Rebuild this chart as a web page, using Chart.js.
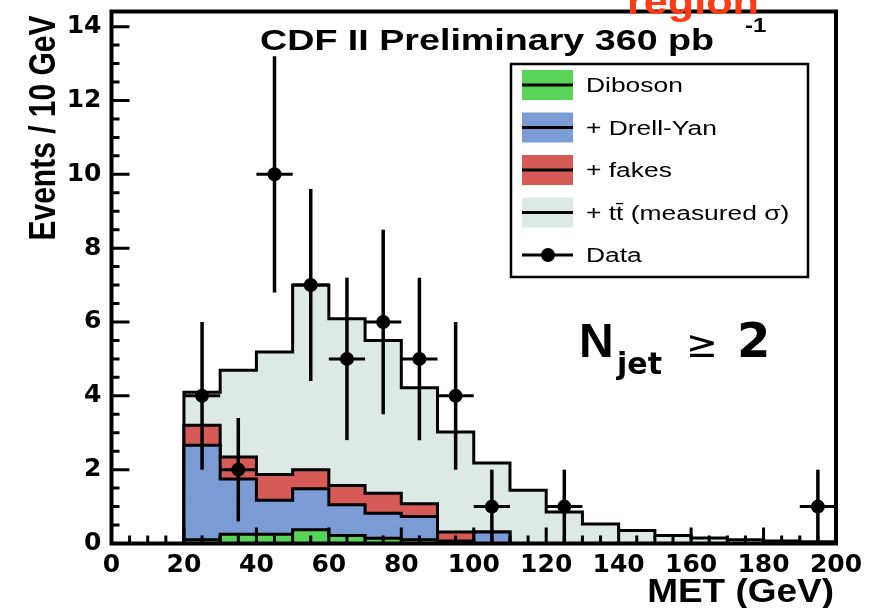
<!DOCTYPE html>
<html>
<head>
<meta charset="utf-8">
<script src="https://cdn.jsdelivr.net/npm/chart.js@4.4.1/dist/chart.umd.min.js"></script>
<style>
  html, body { margin: 0; padding: 0; background: #fff; }
  #wrap { width: 872px; height: 608px; }
</style>
</head>
<body>
<div id="wrap"><canvas id="metChart" width="872" height="608"></canvas></div>
<script>
// ====== DATOS ======
// bins de 10 GeV (borde inferior)
const binLow   = [20, 30, 40, 50, 60, 70, 80, 90, 100, 110, 120, 130, 140, 150, 160, 170, 180, 190];
const binWidth = 10;

// histogramas apilados (cada uno ya incluye los de abajo)
const diboson  = [0.10, 0.25, 0.25, 0.37, 0.22, 0.14, 0.10, 0.05, 0, 0, 0, 0, 0, 0, 0, 0, 0, 0];
const drellYan = [2.66, 1.75, 1.17, 1.48, 1.05, 0.82, 0.73, 0.07, 0.31, 0, 0, 0, 0, 0, 0, 0, 0, 0];
const fakes    = [3.20, 2.34, 1.87, 2.00, 1.57, 1.36, 1.08, 0.31, 0.31, 0, 0, 0, 0, 0, 0, 0, 0, 0];
const ttbar    = [4.10, 4.69, 5.19, 7.00, 6.09, 5.50, 4.22, 3.02, 2.18, 1.44, 0.85, 0.53, 0.35, 0.22, 0.15, 0.10, 0.07, 0.05];

// datos medidos
const dataMet    = [25, 35, 45, 55, 65, 75, 85, 95, 105, 125, 195];
const dataEvents = [4, 2, 10, 7, 5, 6, 5, 4, 1, 1, 1];
const dataErr    = [2.0, 1.4, 3.2, 2.6, 2.2, 2.5, 2.2, 2.0, 1.0, 1.0, 1.0];

// ejes
const xMin = 0, xMax = 200, xStep = 20, xMinor = 5;
const yMin = 0, yMax = 14.41, yStep = 2, yMinor = 0.5;

const colors = {
  diboson: '#58d558',
  drellYan: '#7a9bd3',
  fakes: '#d65a55',
  ttbar: '#dce9e5'
};

const FONT = '"DejaVu Sans", sans-serif';
const HELV = '"Liberation Sans", Arial, sans-serif';

// histograma -> puntos de escalera
function steps(values) {
  const pts = [{ x: binLow[0], y: 0 }];
  values.forEach((v, i) => {
    pts.push({ x: binLow[i], y: v }, { x: binLow[i] + binWidth, y: v });
  });
  pts.push({ x: binLow[binLow.length - 1] + binWidth, y: 0 });
  return pts;
}

function histDataset(label, values, color, order) {
  return {
    label,
    data: steps(values),
    backgroundColor: color,
    borderColor: '#000',
    borderWidth: 3,
    borderJoinStyle: 'miter',
    fill: 'origin',
    pointRadius: 0,
    tension: 0,
    order
  };
}

// texto ensanchado (la figura original esta estirada en horizontal)
function wideText(ctx, text, x, y, font, sx, align) {
  ctx.save();
  ctx.translate(x, y);
  ctx.scale(sx, 1);
  ctx.font = font;
  ctx.textAlign = align || 'left';
  ctx.fillText(text, 0, 0);
  ctx.restore();
}

// ====== PLUGINS ======
const errorBars = {
  id: 'errorBars',
  beforeDatasetDraw(chart, args) {
    if (chart.data.datasets[args.index].label !== 'Data') return;
    const { ctx, scales: { x, y } } = chart;
    ctx.save();
    ctx.strokeStyle = '#000';
    ctx.lineCap = 'butt';
    dataMet.forEach((m, i) => {
      const px = x.getPixelForValue(m);
      const py = y.getPixelForValue(dataEvents[i]);
      ctx.lineWidth = 3.5;
      ctx.beginPath();
      ctx.moveTo(px, y.getPixelForValue(Math.max(0, dataEvents[i] - dataErr[i])));
      ctx.lineTo(px, y.getPixelForValue(dataEvents[i] + dataErr[i]));
      ctx.stroke();
      ctx.lineWidth = 3;
      ctx.beginPath();
      ctx.moveTo(x.getPixelForValue(m - binWidth / 2), py);
      ctx.lineTo(x.getPixelForValue(m + binWidth / 2), py);
      ctx.stroke();
    });
    ctx.restore();
  }
};

const frameTicks = {
  id: 'frameTicks',
  afterDatasetsDraw(chart) {
    const { ctx, chartArea: a, scales: { x, y } } = chart;
    ctx.save();
    ctx.strokeStyle = '#000';
    ctx.lineWidth = 3;
    ctx.beginPath();
    for (let v = xMin; v <= xMax + 1e-6; v += xMinor) {
      const px = x.getPixelForValue(v);
      const len = (v % xStep === 0) ? 16 : 8;
      ctx.moveTo(px, a.bottom);
      ctx.lineTo(px, a.bottom - len);
    }
    for (let v = yMin; v <= yMax + 1e-6; v += yMinor) {
      const py = y.getPixelForValue(v);
      const len = (Math.abs(v % yStep) < 1e-6) ? 18 : 8;
      ctx.moveTo(a.left, py);
      ctx.lineTo(a.left + len, py);
    }
    ctx.stroke();
    ctx.lineWidth = 4;
    ctx.strokeRect(a.left, a.top, a.right - a.left, a.bottom - a.top);
    ctx.restore();
  }
};

const labels = {
  id: 'labels',
  afterDraw(chart) {
    const ctx = chart.ctx;
    ctx.save();
    ctx.fillStyle = '#000';
    ctx.textBaseline = 'alphabetic';

    // leyenda
    const bx = 511, by = 64, bw = 297, bh = 213;
    ctx.fillStyle = '#fff';
    ctx.fillRect(bx, by, bw, bh);
    ctx.strokeStyle = '#000';
    ctx.lineWidth = 2.5;
    ctx.strokeRect(bx, by, bw, bh);
    chart.data.datasets.forEach((ds, i) => {
      const cy = 85 + i * 42.5;
      if (ds.label !== 'Data') {
        ctx.fillStyle = ds.backgroundColor;
        ctx.fillRect(522, cy - 15, 51, 30);
      }
      ctx.strokeStyle = '#000';
      ctx.lineWidth = 3;
      ctx.beginPath();
      ctx.moveTo(522, cy);
      ctx.lineTo(573, cy);
      ctx.stroke();
      if (ds.label === 'Data') {
        ctx.fillStyle = '#000';
        ctx.beginPath();
        ctx.arc(548, cy, 7, 0, Math.PI * 2);
        ctx.fill();
      }
      ctx.fillStyle = '#000';
      ctx.textBaseline = 'alphabetic';
      wideText(ctx, ds.label, 586, cy + 7, '20px ' + HELV, 1.32);
    });

    ctx.fillStyle = '#000';
    wideText(ctx, 'CDF II Preliminary 360 pb', 260, 50, 'bold 30px ' + HELV, 1.255);
    wideText(ctx, '-1', 745, 32, 'bold 20px ' + HELV, 1.2);

    ctx.font = 'bold 48px ' + HELV;
    ctx.fillText('N', 579, 357);
    ctx.font = 'bold 30px ' + FONT;
    ctx.fillText('jet', 617, 374);
    ctx.font = '38px ' + FONT;
    ctx.fillText('\u2265', 686, 357);
    ctx.font = 'bold 48px ' + FONT;
    ctx.fillText('2', 737, 357);

    wideText(ctx, 'MET (GeV)', 834, 602, 'bold 33px ' + HELV, 1.12, 'right');

    ctx.save();
    ctx.translate(55, 128);
    ctx.scale(1.25, 1);
    ctx.rotate(-Math.PI / 2);
    ctx.textAlign = 'center';
    ctx.font = 'bold 30px ' + HELV;
    ctx.fillText('Events / 10 GeV', 0, 0);
    ctx.restore();

    ctx.fillStyle = '#ff3b14';
    wideText(ctx, 'region', 627, 14, 'bold 36px ' + HELV, 1.2);
    ctx.restore();
  }
};

// ====== GRAFICO ======
const tickFont = { family: FONT, weight: 'bold', size: 25 };

new Chart(document.getElementById('metChart'), {
  type: 'line',
  data: {
    datasets: [
      histDataset('Diboson', diboson, colors.diboson, 1),
      histDataset('+ Drell-Yan', drellYan, colors.drellYan, 2),
      histDataset('+ fakes', fakes, colors.fakes, 3),
      histDataset('+ tt\u0304 (measured \u03c3)', ttbar, colors.ttbar, 4),
      {
        label: 'Data',
        data: dataMet.map((m, i) => ({ x: m, y: dataEvents[i] })),
        showLine: false,
        pointRadius: 7,
        pointHoverRadius: 7,
        pointBackgroundColor: '#000',
        pointBorderColor: '#000',
        pointBorderWidth: 0,
        order: 0
      }
    ]
  },
  options: {
    responsive: false,
    animation: false,
    layout: { padding: { top: 11.5, right: 36, left: 0, bottom: 0 } },
    plugins: { legend: { display: false }, tooltip: { enabled: false } },
    scales: {
      x: {
        type: 'linear',
        min: xMin, max: xMax,
        grid: { display: false, drawTicks: false },
        border: { display: false },
        ticks: { stepSize: xStep, padding: 7, maxRotation: 0, autoSkip: false, color: '#000', font: tickFont },
        afterFit(s) { s.height = 64.5; s.paddingLeft = 0; s.paddingRight = 0; }
      },
      y: {
        min: yMin, max: yMax,
        grid: { display: false, drawTicks: false },
        border: { display: false },
        ticks: { stepSize: yStep, includeBounds: false, padding: 10, color: '#000', font: tickFont },
        afterFit(s) { s.width = 111.5; s.paddingTop = 0; s.paddingBottom = 0; }
      }
    }
  },
  plugins: [errorBars, frameTicks, labels]
});
</script>
</body>
</html>
